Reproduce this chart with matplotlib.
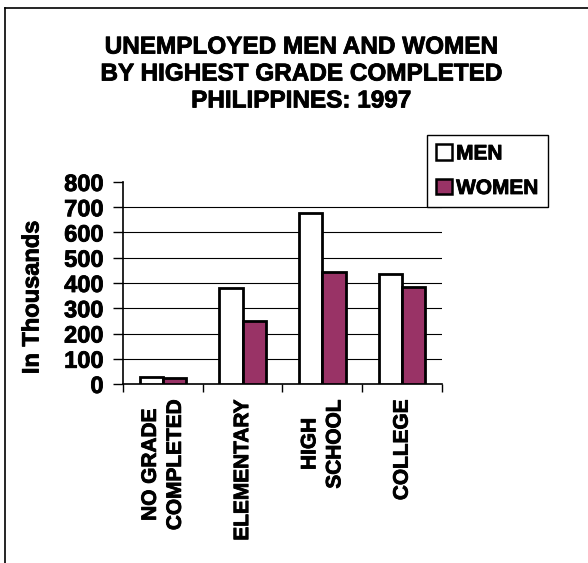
import matplotlib
matplotlib.use("Agg")
import matplotlib.pyplot as plt
import matplotlib.patheffects as pe
from matplotlib.patches import Rectangle
from matplotlib.lines import Line2D
import numpy as np

plt.rcParams['font.family'] = ['Liberation Sans', 'DejaVu Sans']
plt.rcParams['font.weight'] = 'bold'

categories = ["NO GRADE\nCOMPLETED", "ELEMENTARY", "HIGH\nSCHOOL", "COLLEGE"]
men = [28, 381, 676, 434]
women = [25, 249, 445, 385]
yticks = [0, 100, 200, 300, 400, 500, 600, 700, 800]
title = "UNEMPLOYED MEN AND WOMEN\nBY HIGHEST GRADE COMPLETED\nPHILIPPINES: 1997"
ylabel = "In Thousands"
series_names = ["MEN", "WOMEN"]
colors = ["#FFFFFF", "#993366"]

W, H = 588, 563
fig = plt.figure(figsize=(W / 100, H / 100), dpi=100)
heavy = [pe.withStroke(linewidth=0.6, foreground='black')]

def fx(px):
    return px / W

def fy(py):
    return 1 - py / H

# outer frame (top and left visible)
fig.add_artist(Line2D([fx(5), fx(600)], [fy(8), fy(8)], transform=fig.transFigure,
                      color='black', lw=1.2))
fig.add_artist(Line2D([fx(5), fx(5)], [fy(8), fy(600)], transform=fig.transFigure,
                      color='black', lw=1.2))

ax = fig.add_axes([fx(123), fy(384), fx(442) - fx(123), fy(182) - fy(384)])

x = np.arange(len(categories))
bw = 0.29
ax.bar(x - bw / 2, men, bw, color=colors[0], edgecolor='black', linewidth=2.0,
       label=series_names[0], zorder=3)
ax.bar(x + bw / 2, women, bw, color=colors[1], edgecolor='black', linewidth=2.0,
       label=series_names[1], zorder=3)

ax.set_xlim(-0.5, len(categories) - 0.5)
ax.set_ylim(0, 800)
ax.set_yticks(yticks)
ax.set_yticklabels([str(v) for v in yticks], fontsize=17, fontweight='bold')
ax.tick_params(axis='y', direction='out', length=7, width=1, pad=7)

# gridlines (not at the top value)
for v in yticks[1:-1]:
    ax.axhline(v, color='black', lw=0.8, zorder=1)

ax.set_xticks(x)
ax.set_xticklabels(categories, rotation=90, fontsize=15, fontweight='bold',
                   ha='center', va='top', multialignment='center',
                   linespacing=1.4)
ax.tick_params(axis='x', which='major', length=0, pad=11)
ax.set_xticks(np.arange(-0.5, len(categories), 1.0), minor=True)
ax.tick_params(axis='x', which='minor', direction='out', length=6, width=1)

for lab in ax.get_xticklabels() + ax.get_yticklabels():
    lab.set_path_effects(heavy)

for s in ['top', 'right']:
    ax.spines[s].set_visible(False)
for s in ['left', 'bottom']:
    ax.spines[s].set_linewidth(1.2)

fig.text(fx(32), fy(297), ylabel, rotation=90, ha='center', va='center',
         fontsize=17, fontweight='bold', path_effects=heavy)

fig.text(fx(301), fy(74), title, ha='center', va='center', fontsize=17.5,
         fontweight='bold', linespacing=1.22, path_effects=heavy)

# legend
handles = [Rectangle((0, 0), 1, 1, facecolor=colors[0], edgecolor='black', lw=1.8),
           Rectangle((0, 0), 1, 1, facecolor=colors[1], edgecolor='black', lw=1.8)]
leg = fig.legend(handles, series_names, loc='upper left',
                 bbox_to_anchor=(fx(427), fy(135)), bbox_transform=fig.transFigure,
                 fancybox=False, frameon=True, edgecolor='black', framealpha=1,
                 handlelength=0.75, handleheight=0.75, handletextpad=0.2,
                 borderpad=0.45, labelspacing=0.75, borderaxespad=0,
                 prop={'size': 15, 'weight': 'bold'})
leg.get_frame().set_linewidth(1.0)
for t in leg.get_texts():
    t.set_path_effects(heavy)

fig.savefig("out.png", dpi=100)
